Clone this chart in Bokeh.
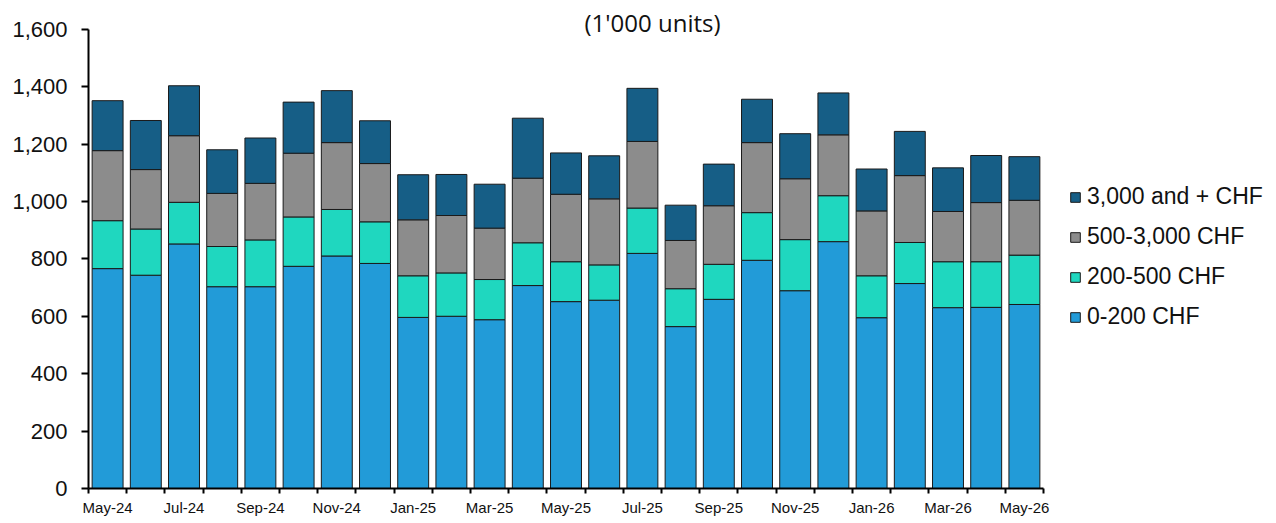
from bokeh.plotting import figure
from bokeh.models import ColumnDataSource, FixedTicker, NumeralTickFormatter, Legend, LegendItem, Range1d, Label
from bokeh.embed import file_html
from bokeh.resources import INLINE

months = ["May-24", "Jun-24", "Jul-24", "Aug-24", "Sep-24", "Oct-24", "Nov-24", "Dec-24",
          "Jan-25", "Feb-25", "Mar-25", "Apr-25", "May-25", "Jun-25", "Jul-25", "Aug-25",
          "Sep-25", "Oct-25", "Nov-25", "Dec-25", "Jan-26", "Feb-26", "Mar-26", "Apr-26", "May-26"]
s_0_200 = [766, 743, 852, 703, 703, 774, 810, 784, 596, 600, 588, 707, 651, 656, 819, 564,
           659, 795, 689, 860, 595, 714, 630, 631, 641]
s_200_500 = [167, 161, 145, 140, 163, 172, 162, 145, 145, 151, 140, 149, 139, 123, 158, 132,
             122, 166, 178, 160, 146, 143, 160, 159, 172]
s_500_3000 = [244, 207, 232, 185, 197, 222, 233, 203, 195, 200, 179, 225, 235, 230, 232, 168,
              204, 244, 212, 212, 226, 233, 175, 206, 191]
s_3000_plus = [174, 171, 174, 152, 158, 178, 181, 149, 157, 143, 153, 209, 144, 150, 185, 123,
               145, 151, 157, 146, 146, 154, 152, 164, 152]
series_names = ["0-200 CHF", "200-500 CHF", "500-3,000 CHF", "3,000 and + CHF"]
colors = ["#229BD8", "#1FD7BF", "#8C8C8C", "#165E86"]
y_ticks = [0, 200, 400, 600, 800, 1000, 1200, 1400, 1600]
title_text = "(1'000 units)"

keys = ["a", "b", "c", "d"]
x = list(range(len(months)))
src = ColumnDataSource(dict(x=x, a=s_0_200, b=s_200_500, c=s_500_3000, d=s_3000_plus))

FONT = "Liberation Sans"

p = figure(frame_width=955, frame_height=488,
           x_range=Range1d(-0.5, len(months) - 0.5), y_range=Range1d(0, 1700),
           output_backend="svg", toolbar_location=None,
           min_border_left=88, min_border_right=233, min_border_top=0, min_border_bottom=35)
p.outline_line_color = None
p.xgrid.visible = False
p.ygrid.visible = False
p.background_fill_color = "white"
p.border_fill_color = "white"

rs = p.vbar_stack(keys, x="x", width=0.81, source=src, fill_color=colors,
                  line_color="#1a1a1a", line_width=1)

# title as a label placed in screen units inside the (taller) frame
title = Label(x=564, y=466, x_units="screen", y_units="screen", text=title_text,
              text_font="Open Sans", text_font_size="24px", text_color="#111111",
              text_align="center", text_baseline="middle")
p.add_layout(title)

# x axis
xa = p.xaxis[0]
xa.ticker = FixedTicker(ticks=x[::2], minor_ticks=[i - 0.5 for i in range(len(months) + 1)])
xa.major_label_overrides = {i: months[i] for i in x[::2]}
xa.major_tick_line_color = None
xa.major_tick_out = 5
xa.major_tick_in = 0
xa.minor_tick_out = 5
xa.minor_tick_in = 0
xa.minor_tick_line_color = "black"
xa.minor_tick_line_width = 2
xa.axis_line_color = "black"
xa.axis_line_width = 2
xa.major_label_text_font = FONT
xa.major_label_text_font_size = "15px"
xa.major_label_text_color = "#111111"
xa.major_label_standoff = 5

# y axis
ya = p.yaxis[0]
ya.ticker = FixedTicker(ticks=y_ticks)
ya.bounds = (0, 1600)
ya.formatter = NumeralTickFormatter(format="0,0")
ya.minor_tick_line_color = None
ya.major_tick_out = 7
ya.major_tick_in = 0
ya.major_tick_line_color = "black"
ya.major_tick_line_width = 2
ya.axis_line_color = "black"
ya.axis_line_width = 2
ya.major_label_text_font = FONT
ya.major_label_text_font_size = "22px"
ya.major_label_text_color = "#111111"
ya.major_label_standoff = 14

items = [LegendItem(label=series_names[i], renderers=[rs[i]]) for i in range(3, -1, -1)]
legend = Legend(items=items, location=(26, 158), margin=0, padding=10,
                border_line_color=None, background_fill_alpha=0,
                glyph_width=12, glyph_height=12, label_standoff=6,
                label_text_font=FONT, label_text_font_size="23px", label_text_color="#111111",
                label_height=20, spacing=13)
p.add_layout(legend, "right")

open("out.html", "w").write(file_html(p, INLINE))
